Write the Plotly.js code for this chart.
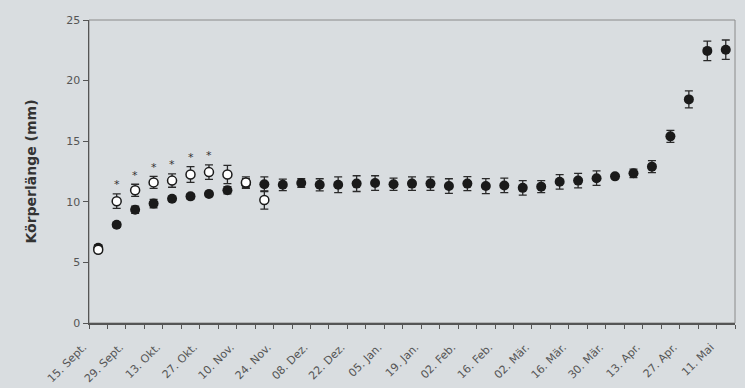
<!DOCTYPE html>
<html>
<head>
<meta charset="utf-8">
<script src="https://cdn.plot.ly/plotly-3.0.1.min.js"></script>
<style>html,body{margin:0;padding:0;background:#d9dde0;}#chart{width:745px;height:388px;}</style>
</head>
<body>
<div id="chart"></div>
<script>
// Weekly sampling dates (categories)
const categories = ["15. Sept.","22. Sept.","29. Sept.","06. Okt.","13. Okt.","20. Okt.","27. Okt.","03. Nov.","10. Nov.","17. Nov.","24. Nov.","01. Dez.","08. Dez.","15. Dez.","22. Dez.","29. Dez.","05. Jan.","12. Jan.","19. Jan.","26. Jan.","02. Feb.","09. Feb.","16. Feb.","23. Feb.","02. Mär.","09. Mär.","16. Mär.","23. Mär.","30. Mär.","06. Apr.","13. Apr.","20. Apr.","27. Apr.","04. Mai","11. Mai"];
// Labels shown on the axis (every second date)
const tickLabels = ["15. Sept.","29. Sept.","13. Okt.","27. Okt.","10. Nov.","24. Nov.","08. Dez.","22. Dez.","05. Jan.","19. Jan.","02. Feb.","16. Feb.","02. Mär.","16. Mär.","30. Mär.","13. Apr.","27. Apr.","11. Mai"];
// Filled series: body length (mm) and error
const filledValues = [6.2,8.1,9.35,9.85,10.25,10.45,10.65,10.95,11.5,11.45,11.4,11.55,11.4,11.4,11.5,11.55,11.45,11.5,11.5,11.3,11.5,11.3,11.35,11.15,11.25,11.65,11.75,11.95,12.1,12.35,12.9,15.4,18.45,22.45,22.55];
const filledErrors = [0.25,0.2,0.3,0.35,0.2,0.2,0.2,0.3,0.4,0.6,0.47,0.35,0.5,0.65,0.65,0.6,0.5,0.55,0.55,0.6,0.58,0.62,0.6,0.6,0.5,0.6,0.6,0.6,0.15,0.35,0.5,0.5,0.7,0.8,0.8];
// Open series (first ten dates)
const openValues = [6.05,10.05,10.95,11.6,11.75,12.25,12.45,12.25,11.6,10.15];
const openErrors = [0.25,0.6,0.5,0.5,0.55,0.65,0.6,0.75,0.45,0.75];
// Significance markers (1 = asterisk)
const significant = [0,1,1,1,1,1,1,0,0,0];

const idx = categories.map((c, i) => i);
const tickIdx = tickLabels.map(l => categories.indexOf(l));
const boundaries = categories.concat(["end"]).map((c, i) => i - 0.5);

const traces = [
  {
    x: idx, y: filledValues, type: 'scatter', mode: 'markers',
    marker: {symbol: 'circle', size: 10, color: '#1a1a1a'},
    error_y: {type: 'data', array: filledErrors, visible: true, color: '#2a2a2a', thickness: 1.3, width: 4},
    showlegend: false, hoverinfo: 'skip'
  },
  {
    x: idx.slice(0, openValues.length), y: openValues, type: 'scatter', mode: 'markers',
    marker: {symbol: 'circle', size: 9, color: '#ffffff', line: {color: '#1a1a1a', width: 1.5}},
    error_y: {type: 'data', array: openErrors, visible: true, color: '#2a2a2a', thickness: 1.3, width: 4},
    showlegend: false, hoverinfo: 'skip'
  }
];

const annotations = [];
significant.forEach((s, i) => {
  if (s) annotations.push({
    x: i, y: openValues[i] + openErrors[i] + 1.0, xref: 'x', yref: 'y',
    text: '*', showarrow: false, font: {family: 'DejaVu Sans', size: 11, color: '#333333'},
    yshift: -3
  });
});

const layout = {
  width: 745, height: 388,
  margin: {l: 89, r: 10, t: 20, b: 65},
  paper_bgcolor: '#d9dde0', plot_bgcolor: '#d9dde0',
  font: {family: 'DejaVu Sans', size: 11, color: '#555'},
  xaxis: {
    range: [-0.5, categories.length - 0.5],
    tickmode: 'array', tickvals: tickIdx, ticktext: tickLabels,
    ticks: '', tickangle: -45, tickfont: {size: 11, color: '#555'},
    ticklabelstandoff: 12, ticklabelshift: -15,
    showgrid: false, zeroline: false,
    showline: true, linecolor: '#555', linewidth: 1.5,
    minor: {tickmode: 'array', tickvals: boundaries, ticks: 'outside', ticklen: 4, tickcolor: '#555', tickwidth: 1, showgrid: false}
  },
  yaxis: {
    range: [0, 25], tickmode: 'array', tickvals: [0,5,10,15,20,25],
    ticks: 'outside', ticklen: 5, tickcolor: '#555', tickwidth: 1,
    tickfont: {size: 11, color: '#555'},
    showgrid: false, zeroline: false,
    showline: true, linecolor: '#555', linewidth: 1.5,
    title: {text: '<b>Körperlänge (mm)</b>', font: {family: 'DejaVu Sans', size: 14, color: '#333'}, standoff: 26}
  },
  shapes: [{
    type: 'rect', xref: 'paper', yref: 'paper', x0: 0, x1: 1, y0: 0, y1: 1,
    line: {color: '#8a8a8a', width: 1}, layer: 'below'
  }],
  annotations: annotations
};

Plotly.newPlot('chart', traces, layout, {displayModeBar: false, staticPlot: true});
</script>
</body>
</html>
